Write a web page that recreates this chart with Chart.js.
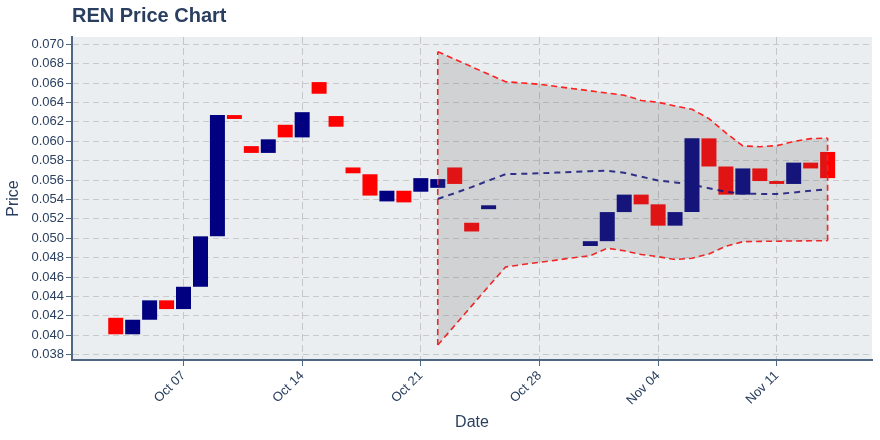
<!DOCTYPE html>
<html>
<head>
<meta charset="utf-8">
<script src="https://cdn.jsdelivr.net/npm/chart.js@4"></script>
<style>
    body { margin: 0; background: #fff; }
</style>
</head>
<body>
<canvas id="graph" width="880" height="440"></canvas>
<script>
// DADOS
const candleDates = [
    "2019-10-03", "2019-10-04", "2019-10-05", "2019-10-06", "2019-10-07", "2019-10-08",
    "2019-10-09", "2019-10-10", "2019-10-11", "2019-10-12", "2019-10-13", "2019-10-14",
    "2019-10-15", "2019-10-16", "2019-10-17", "2019-10-18", "2019-10-19", "2019-10-20",
    "2019-10-21", "2019-10-22", "2019-10-23", "2019-10-24", "2019-10-25",
    "2019-10-31", "2019-11-01", "2019-11-02", "2019-11-03", "2019-11-04", "2019-11-05",
    "2019-11-06", "2019-11-07", "2019-11-08", "2019-11-09", "2019-11-10", "2019-11-11",
    "2019-11-12", "2019-11-13", "2019-11-14"
];
const openPrices = [
    0.0418, 0.0401, 0.0416, 0.0436, 0.0427, 0.0450,
    0.0502, 0.0627, 0.0595, 0.0588, 0.0617, 0.0604,
    0.0661, 0.0626, 0.0573, 0.0566, 0.0538, 0.0549,
    0.0548, 0.0552, 0.0573, 0.0516, 0.0530,
    0.0492, 0.0497, 0.0527, 0.0545, 0.0535, 0.0513,
    0.0527, 0.0603, 0.0574, 0.0545, 0.0572, 0.0559,
    0.0556, 0.0578, 0.0589
];
const closePrices = [
    0.0401, 0.0416, 0.0436, 0.0427, 0.0450, 0.0502,
    0.0627, 0.0623, 0.0588, 0.0602, 0.0604, 0.0630,
    0.0649, 0.0615, 0.0567, 0.0544, 0.0549, 0.0537,
    0.0562, 0.0561, 0.0556, 0.0507, 0.0534,
    0.0497, 0.0527, 0.0545, 0.0535, 0.0513, 0.0527,
    0.0603, 0.0574, 0.0545, 0.0572, 0.0559, 0.0556,
    0.0578, 0.0572, 0.0562
];

const forecastDates = [
    "2019-10-22", "2019-10-23", "2019-10-24", "2019-10-25", "2019-10-26", "2019-10-27",
    "2019-10-28", "2019-10-29", "2019-10-30", "2019-10-31", "2019-11-01", "2019-11-02",
    "2019-11-03", "2019-11-04", "2019-11-05", "2019-11-06", "2019-11-07", "2019-11-08",
    "2019-11-09", "2019-11-10", "2019-11-11", "2019-11-12", "2019-11-13", "2019-11-14"
];
const upperBand = [
    0.06924, 0.06846, 0.06768, 0.06691, 0.06614, 0.06601,
    0.06588, 0.06565, 0.06542, 0.06520, 0.06497, 0.06475,
    0.06421, 0.06402, 0.06364, 0.06330, 0.06234, 0.06086,
    0.05952, 0.05944, 0.05955, 0.05998, 0.06027, 0.06034
];
const lowerBand = [
    0.03900, 0.04101, 0.04303, 0.04505, 0.04704, 0.04729,
    0.04753, 0.04775, 0.04799, 0.04821, 0.04897, 0.04871,
    0.04833, 0.04810, 0.04781, 0.04794, 0.04838, 0.04918,
    0.04965, 0.04968, 0.04970, 0.04972, 0.04974, 0.04975
];
const meanLine = [
    0.05405, 0.05465, 0.05527, 0.05595, 0.05661, 0.05665,
    0.05670, 0.05677, 0.05685, 0.05692, 0.05696, 0.05675,
    0.05635, 0.05596, 0.05576, 0.05552, 0.05516, 0.05479,
    0.05461, 0.05457, 0.05457, 0.05472, 0.05490, 0.05505
];

const tickDates = ["2019-10-07", "2019-10-14", "2019-10-21", "2019-10-28", "2019-11-04", "2019-11-11"];
const tickLabels = ["Oct 07", "Oct 14", "Oct 21", "Oct 28", "Nov 04", "Nov 11"];
const priceTicks = [
    0.038, 0.040, 0.042, 0.044, 0.046, 0.048, 0.050, 0.052, 0.054,
    0.056, 0.058, 0.060, 0.062, 0.064, 0.066, 0.068, 0.070
];

// converte data em dias desde 1 de outubro
const dayIndex = (s) => (Date.parse(s) - Date.parse("2019-10-01")) / 86400000;
const lastF = forecastDates.length - 1;

const textColor = "#2a3f5f";
const axisColor = "#506784";
const fontFamily = "'Liberation Sans', Arial, sans-serif";

// fundo da área do gráfico
const plotBackground = {
    id: "plotBackground",
    beforeDraw(chart) {
        const { ctx, chartArea } = chart;
        ctx.save();
        ctx.fillStyle = "#ebeef0";
        ctx.fillRect(chartArea.left, chartArea.top, chartArea.right - chartArea.left, chartArea.bottom - chartArea.top);
        ctx.restore();
    },
};

const redDash = {
    type: "line",
    borderColor: "#ff2020",
    borderWidth: 1.6,
    borderDash: [6, 4],
    pointRadius: 0,
    tension: 0,
    order: 0,
};

// CONSTRUIR GRÁFICO
const ctx = document.getElementById("graph");
new Chart(ctx, {
    type: "bar",
    plugins: [plotBackground],
    data: {
        datasets: [
            {
                ...redDash,
                label: "upper",
                data: forecastDates.map((d, i) => ({ x: dayIndex(d), y: upperBand[i] })),
                fill: "+1",
                backgroundColor: "rgba(100,100,100,0.2)",
            },
            {
                ...redDash,
                label: "lower",
                data: forecastDates.map((d, i) => ({ x: dayIndex(d), y: lowerBand[i] })),
                fill: false,
            },
            {
                ...redDash,
                label: "start",
                data: [
                    { x: dayIndex(forecastDates[0]), y: lowerBand[0] },
                    { x: dayIndex(forecastDates[0]), y: upperBand[0] },
                ],
                fill: false,
            },
            {
                ...redDash,
                label: "end",
                data: [
                    { x: dayIndex(forecastDates[lastF]), y: lowerBand[lastF] },
                    { x: dayIndex(forecastDates[lastF]), y: upperBand[lastF] },
                ],
                fill: false,
            },
            {
                type: "line",
                label: "mean",
                data: forecastDates.map((d, i) => ({ x: dayIndex(d), y: meanLine[i] })),
                borderColor: "rgba(0,0,128,0.85)",
                borderWidth: 2,
                borderDash: [6, 5],
                pointRadius: 0,
                tension: 0,
                fill: false,
                order: 0,
            },
            {
                label: "price",
                data: candleDates.map((d, i) => ({ x: dayIndex(d), y: [openPrices[i], closePrices[i]] })),
                backgroundColor: candleDates.map((d, i) => closePrices[i] >= openPrices[i] ? "#000080" : "#ff0000"),
                borderWidth: 0,
                categoryPercentage: 1,
                barPercentage: 0.885,
                order: 1,
            },
        ],
    },
    options: {
        responsive: false,
        animation: false,
        layout: {
            padding: { left: 0, right: 8, top: 0, bottom: 4 },
        },
        scales: {
            x: {
                type: "linear",
                offset: false,
                min: -0.58,
                max: 46.62,
                afterBuildTicks: (scale) => {
                    scale.ticks = tickDates.map((d) => ({ value: dayIndex(d) }));
                },
                afterFit: (scale) => {
                    scale.height = 76;
                },
                border: { color: axisColor, width: 2, dash: [7, 4] },
                grid: {
                    offset: false,
                    color: "#c4c6c8",
                    tickColor: axisColor,
                    tickLength: 6,
                    tickBorderDash: [],
                },
                ticks: {
                    autoSkip: false,
                    maxRotation: 45,
                    minRotation: 45,
                    padding: 2,
                    color: textColor,
                    font: { size: 13, family: fontFamily },
                    callback: (value) => tickLabels[tickDates.findIndex((d) => dayIndex(d) === value)],
                },
                title: {
                    display: true,
                    text: "Date",
                    color: textColor,
                    font: { size: 16, family: fontFamily },
                },
            },
            y: {
                min: 0.03745,
                max: 0.07075,
                afterBuildTicks: (scale) => {
                    scale.ticks = priceTicks.map((v) => ({ value: v }));
                },
                afterFit: (scale) => {
                    scale.width = 72;
                },
                border: { color: axisColor, width: 2, dash: [6, 4] },
                grid: {
                    color: "#c8cacc",
                    tickColor: axisColor,
                    tickLength: 6,
                    tickBorderDash: [],
                },
                ticks: {
                    padding: 2,
                    color: textColor,
                    font: { size: 13, family: fontFamily },
                    callback: (value) => value.toFixed(3),
                },
                title: {
                    display: true,
                    text: "Price",
                    color: textColor,
                    font: { size: 16, family: fontFamily },
                },
            },
        },
        plugins: {
            legend: { display: false },
            tooltip: { enabled: false },
            title: {
                display: true,
                text: "REN Price Chart",
                align: "start",
                fullSize: false,
                color: textColor,
                padding: { top: 4, bottom: 9 },
                font: { size: 20, weight: "bold", family: fontFamily },
            },
        },
    },
});
</script>
</body>
</html>
